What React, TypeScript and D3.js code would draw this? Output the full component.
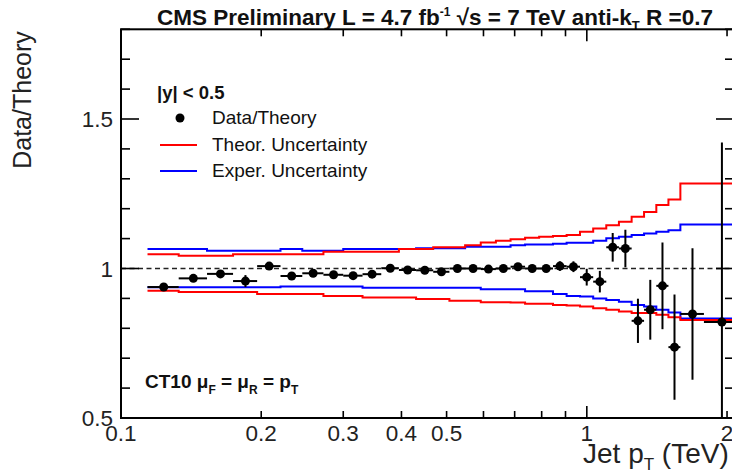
import React from "react";
import * as d3 from "d3";

// ---- data ----
const binEdges = [0.114, 0.133, 0.153, 0.174, 0.196, 0.22, 0.245, 0.272, 0.3, 0.33, 0.362, 0.395, 0.43, 0.468, 0.507, 0.548, 0.592, 0.638, 0.686, 0.737, 0.79, 0.846, 0.905, 0.967, 1.032, 1.101, 1.172, 1.248, 1.327, 1.41, 1.497, 1.588, 1.784, 2.116];
const ptCenters = [0.1235, 0.143, 0.1635, 0.185, 0.208, 0.2325, 0.2585, 0.286, 0.315, 0.346, 0.3785, 0.4125, 0.449, 0.4875, 0.5275, 0.57, 0.615, 0.662, 0.7115, 0.7635, 0.818, 0.8755, 0.936, 0.9995, 1.0665, 1.1365, 1.21, 1.2875, 1.3685, 1.4535, 1.5425, 1.686, 1.95];
const ratio = [0.938, 0.967, 0.982, 0.958, 1.008, 0.975, 0.984, 0.979, 0.976, 0.981, 1.001, 0.995, 0.994, 0.989, 1.0, 1.0, 0.998, 1.0, 1.006, 1.0, 1.0, 1.008, 1.006, 0.971, 0.956, 1.071, 1.067, 0.825, 0.862, 0.942, 0.737, 0.848, 0.821];
const ratioErr = [0.005, 0.005, 0.005, 0.02, 0.005, 0.005, 0.005, 0.005, 0.005, 0.005, 0.005, 0.005, 0.005, 0.005, 0.005, 0.005, 0.005, 0.005, 0.006, 0.007, 0.008, 0.016, 0.018, 0.028, 0.036, 0.048, 0.063, 0.074, 0.1, 0.145, 0.176, 0.22, 0.6];
const theoUp = [1.048, 1.043, 1.043, 1.048, 1.048, 1.048, 1.048, 1.056, 1.056, 1.056, 1.056, 1.065, 1.065, 1.071, 1.071, 1.078, 1.087, 1.093, 1.098, 1.103, 1.106, 1.109, 1.112, 1.123, 1.134, 1.145, 1.156, 1.173, 1.189, 1.212, 1.231, 1.284, 1.284];
const theoDown = [0.926, 0.921, 0.921, 0.921, 0.915, 0.915, 0.915, 0.908, 0.908, 0.903, 0.903, 0.903, 0.898, 0.898, 0.892, 0.892, 0.887, 0.887, 0.886, 0.882, 0.882, 0.878, 0.876, 0.873, 0.867, 0.862, 0.856, 0.851, 0.851, 0.845, 0.837, 0.828, 0.828];
const expUp = [1.065, 1.065, 1.059, 1.059, 1.059, 1.065, 1.059, 1.059, 1.065, 1.065, 1.065, 1.065, 1.068, 1.068, 1.068, 1.073, 1.073, 1.073, 1.078, 1.08, 1.08, 1.083, 1.086, 1.086, 1.093, 1.101, 1.106, 1.112, 1.117, 1.123, 1.128, 1.147, 1.147];
const expDown = [0.937, 0.937, 0.937, 0.937, 0.937, 0.94, 0.94, 0.94, 0.94, 0.936, 0.936, 0.936, 0.936, 0.936, 0.936, 0.936, 0.931, 0.931, 0.931, 0.924, 0.924, 0.915, 0.908, 0.906, 0.9, 0.895, 0.889, 0.878, 0.873, 0.862, 0.853, 0.833, 0.833];

const xTickValues = [0.1, 0.2, 0.3, 0.4, 0.5, 0.6, 0.7, 0.8, 0.9, 1, 2];
const xMajorTicks = [0.1, 1];
const xTickLabels: [number, string][] = [[0.1, "0.1"], [0.2, "0.2"], [0.3, "0.3"], [0.4, "0.4"], [0.5, "0.5"], [1, "1"], [2, "2"]];
const yTickValues = [0.5, 0.6, 0.7, 0.8, 0.9, 1.0, 1.1, 1.2, 1.3, 1.4, 1.5, 1.6, 1.7, 1.8];
const yMajorTicks = [0.5, 1.0, 1.5];
const yTickLabels: [number, string][] = [[0.5, "0.5"], [1, "1"], [1.5, "1.5"]];

const W = 732, H = 475;
const L = 121, R = 734, T = 29.3, B = 418;
const FONT = "'Liberation Sans', Arial, Helvetica, sans-serif";

export default function App() {
  const x = d3.scaleLog().domain([0.1, 2.07]).range([L, R]);
  const y = d3.scaleLinear().domain([0.5, 1.8]).range([B, T]);

  const stepPath = (vals: number[]) => {
    const pts: [number, number][] = binEdges.map((e, i) => [e, vals[Math.min(i, vals.length - 1)]]);
    return d3.line<[number, number]>().x(d => x(d[0])).y(d => y(d[1])).curve(d3.curveStepAfter)(pts) || "";
  };

  return (
    <svg width={W} height={H} style={{ position: "absolute", left: 0, top: 0, background: "#fff" }} fontFamily={FONT}>
      <defs>
        <clipPath id="plotclip">
          <rect x={L} y={T} width={R - L} height={B - T} />
        </clipPath>
      </defs>
      <rect x={0} y={0} width={W} height={H} fill="#fff" />

      {/* title */}
      <text x={157} y={25} fontSize={22.5} fontWeight="bold" fill="#111">
        CMS Preliminary L = 4.7 fb<tspan fontSize={12} dy={-9}>-1</tspan>
        <tspan dy={9}>{"  \u221As = 7 TeV anti-k"}</tspan>
        <tspan fontSize={13} dy={5}>T</tspan>
        <tspan dy={-5}>{" R =0.7"}</tspan>
      </text>

      <g clipPath="url(#plotclip)">
        {/* reference line */}
        <line x1={L} x2={R} y1={y(1)} y2={y(1)} stroke="#222" strokeWidth={1.6} strokeDasharray="5,3.5" />
        {/* uncertainty bands */}
        <path d={stepPath(expUp)} fill="none" stroke="#0000ff" strokeWidth={2} />
        <path d={stepPath(expDown)} fill="none" stroke="#0000ff" strokeWidth={2} />
        <path d={stepPath(theoUp)} fill="none" stroke="#ff0000" strokeWidth={2} />
        <path d={stepPath(theoDown)} fill="none" stroke="#ff0000" strokeWidth={2} />
        {/* data */}
        {ptCenters.map((p, i) => (
          <g key={i}>
            <line x1={x(binEdges[i])} x2={x(binEdges[i + 1])} y1={y(ratio[i])} y2={y(ratio[i])} stroke="#000" strokeWidth={2} />
            <line x1={x(p)} x2={x(p)} y1={y(ratio[i] - ratioErr[i])} y2={y(ratio[i] + ratioErr[i])} stroke="#000" strokeWidth={2} />
            <circle cx={x(p)} cy={y(ratio[i])} r={4.5} fill="#000" />
          </g>
        ))}
      </g>

      {/* frame */}
      <rect x={L} y={T} width={R - L} height={B - T} fill="none" stroke="#000" strokeWidth={2} />

      {/* x ticks */}
      {xTickValues.map((v, i) => {
        const len = xMajorTicks.includes(v) ? 12 : 7;
        return (
          <g key={"xt" + i}>
            <line x1={x(v)} x2={x(v)} y1={B} y2={B - len} stroke="#000" strokeWidth={1.6} />
            <line x1={x(v)} x2={x(v)} y1={T} y2={T + len} stroke="#000" strokeWidth={1.6} />
          </g>
        );
      })}
      {xTickLabels.map(([v, s], i) => (
        <text key={"xl" + i} x={x(v)} y={441} fontSize={22.5} textAnchor="middle" fill="#222">{s}</text>
      ))}

      {/* y ticks */}
      {yTickValues.map((v, i) => {
        const len = yMajorTicks.includes(v) ? 18 : 9;
        return (
          <g key={"yt" + i}>
            <line x1={L} x2={L + len} y1={y(v)} y2={y(v)} stroke="#000" strokeWidth={1.6} />
            <line x1={R} x2={R - len} y1={y(v)} y2={y(v)} stroke="#000" strokeWidth={1.6} />
          </g>
        );
      })}
      {yTickLabels.map(([v, s], i) => (
        <text key={"yl" + i} x={113} y={y(v) + 8} fontSize={22.5} textAnchor="end" fill="#222">{s}</text>
      ))}

      {/* axis titles */}
      <text transform="translate(31,100) rotate(-90)" fontSize={25} textAnchor="middle" fill="#222">Data/Theory</text>
      <text x={583} y={463} fontSize={28} fill="#222">
        Jet p<tspan fontSize={17} dy={7}>T</tspan><tspan dy={-7}>{" (TeV)"}</tspan>
      </text>

      {/* legend */}
      <text x={157} y={99} fontSize={18.5} fontWeight="bold" fill="#111">|y| &lt; 0.5</text>
      <circle cx={180} cy={118} r={4.5} fill="#000" />
      <text x={212} y={124} fontSize={19} fill="#111">Data/Theory</text>
      <line x1={160} x2={197} y1={145} y2={145} stroke="#ff0000" strokeWidth={2} />
      <text x={212} y={151} fontSize={19} fill="#111">Theor. Uncertainty</text>
      <line x1={160} x2={197} y1={171} y2={171} stroke="#0000ff" strokeWidth={2} />
      <text x={212} y={177} fontSize={19} fill="#111">Exper. Uncertainty</text>

      {/* scale annotation */}
      <text x={145} y={388} fontSize={19} fontWeight="bold" fill="#111">
        CT10 {"\u03BC"}<tspan fontSize={12} dy={6}>F</tspan>
        <tspan dy={-6}>{" = \u03BC"}</tspan><tspan fontSize={12} dy={6}>R</tspan>
        <tspan dy={-6}>{" = p"}</tspan><tspan fontSize={12} dy={6}>T</tspan>
      </text>
    </svg>
  );
}
